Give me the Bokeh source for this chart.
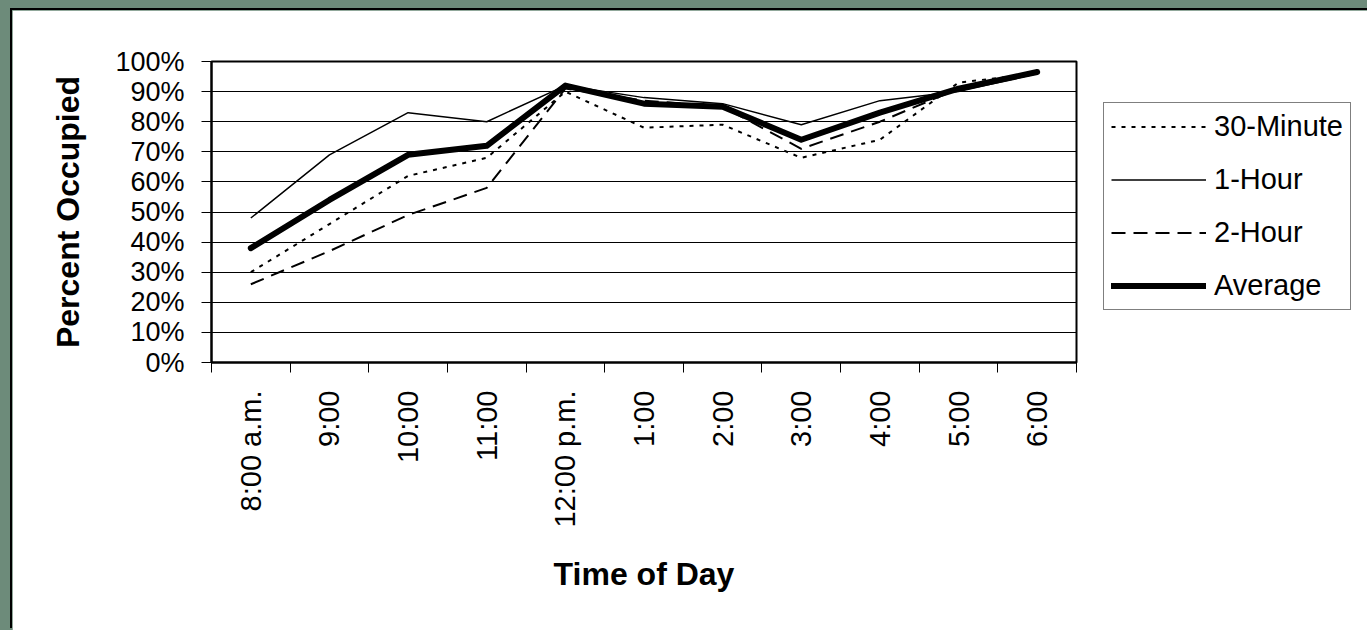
import math
from bokeh.plotting import figure
from bokeh.models import (Range1d, FixedTicker, NumeralTickFormatter, Legend, LegendItem)
from bokeh.embed import file_html
from bokeh.resources import INLINE

# ---- data ----
categories = ["8:00 a.m.", "9:00", "10:00", "11:00", "12:00 p.m.", "1:00",
              "2:00", "3:00", "4:00", "5:00", "6:00"]
min30 = [0.30, 0.46, 0.62, 0.68, 0.90, 0.78, 0.79, 0.68, 0.74, 0.93, 0.96]
hour1 = [0.48, 0.69, 0.83, 0.80, 0.92, 0.88, 0.86, 0.79, 0.87, 0.90, 0.96]
hour2 = [0.26, 0.37, 0.49, 0.58, 0.91, 0.87, 0.85, 0.71, 0.80, 0.91, 0.96]
average = [0.38, 0.54, 0.69, 0.72, 0.92, 0.86, 0.85, 0.74, 0.83, 0.91, 0.965]
series_names = ["30-Minute", "1-Hour", "2-Hour", "Average"]
y_ticks = [i / 10 for i in range(11)]

xs = list(range(len(categories)))
FONT = "Liberation Sans"

p = figure(frame_width=865, frame_height=301, output_backend="svg", toolbar_location=None,
           x_range=Range1d(-0.5, len(categories) - 0.5), y_range=Range1d(0, 1),
           min_border_left=199, min_border_right=0, min_border_top=51,
           min_border_bottom=268)
p.styles = {"box-shadow": "-2px -2px 0 0 #000"}
p.background_fill_color = "white"
p.border_fill_color = "white"
p.outline_line_color = "black"
p.outline_line_width = 2

# grid
p.xgrid.grid_line_color = None
p.ygrid.grid_line_color = "black"
p.ygrid.grid_line_width = 1
p.ygrid.ticker = FixedTicker(ticks=y_ticks)

# y axis
ya = p.yaxis[0]
ya.ticker = FixedTicker(ticks=y_ticks)
ya.formatter = NumeralTickFormatter(format="0%")
ya.axis_label = "Percent Occupied"
ya.axis_label_text_font = FONT
ya.axis_label_text_font_style = "bold"
ya.axis_label_text_font_size = "32px"
ya.axis_label_text_color = "black"
ya.axis_label_standoff = 26
ya.major_label_text_font = FONT
ya.major_label_text_font_size = "27px"
ya.major_label_text_color = "black"
ya.major_label_standoff = 17
ya.major_tick_out = 10
ya.major_tick_in = 0
ya.major_tick_line_color = "black"
ya.minor_tick_line_color = None
ya.axis_line_color = "black"
ya.axis_line_width = 2

# x axis
xa = p.xaxis[0]
xa.ticker = FixedTicker(ticks=xs, minor_ticks=[i - 0.5 for i in range(len(categories) + 1)])
xa.major_label_overrides = {i: c for i, c in zip(xs, categories)}
xa.major_label_orientation = math.pi / 2
xa.axis_label = "Time of Day"
xa.axis_label_text_font = FONT
xa.axis_label_text_font_style = "bold"
xa.axis_label_text_font_size = "32px"
xa.axis_label_text_color = "black"
xa.axis_label_standoff = 25
xa.major_label_text_font = FONT
xa.major_label_text_font_size = "29px"
xa.major_label_text_color = "black"
xa.major_label_standoff = 18
xa.major_tick_line_color = None
xa.major_tick_out = 10
xa.major_tick_in = 0
xa.minor_tick_line_color = "black"
xa.minor_tick_out = 10
xa.minor_tick_in = 0
xa.axis_line_color = "black"
xa.axis_line_width = 2

r30 = p.line(xs, min30, line_color="black", line_width=2, line_dash="4 6")
r1 = p.line(xs, hour1, line_color="black", line_width=1.5)
r2 = p.line(xs, hour2, line_color="black", line_width=2, line_dash="14 8")
ravg = p.line(xs, average, line_color="black", line_width=6,
              line_cap="round", line_join="round")

legend = Legend(items=[LegendItem(label=n, renderers=[r]) for n, r in
                       zip(series_names, [r30, r1, r2, ravg])],
                location=(27, 52), orientation="vertical")
legend.label_text_font = FONT
legend.label_text_font_size = "29px"
legend.label_text_color = "black"
legend.label_height = 33
legend.glyph_height = 33
legend.glyph_width = 95
legend.label_standoff = 8
legend.spacing = 20
legend.padding = 7
legend.margin = 0
legend.border_line_color = "black"
legend.border_line_width = 1
legend.background_fill_color = "white"
legend.background_fill_alpha = 1
p.add_layout(legend, "right")

html = file_html(p, INLINE, title="Percent Occupied by Time of Day")
html = html.replace(
    "<head>",
    "<head><style>html,body{background:#6d8b7a !important;overflow:hidden;}"
    "body{padding:10px 0 0 12px !important;}</style>", 1)
open("out.html", "w").write(html)
